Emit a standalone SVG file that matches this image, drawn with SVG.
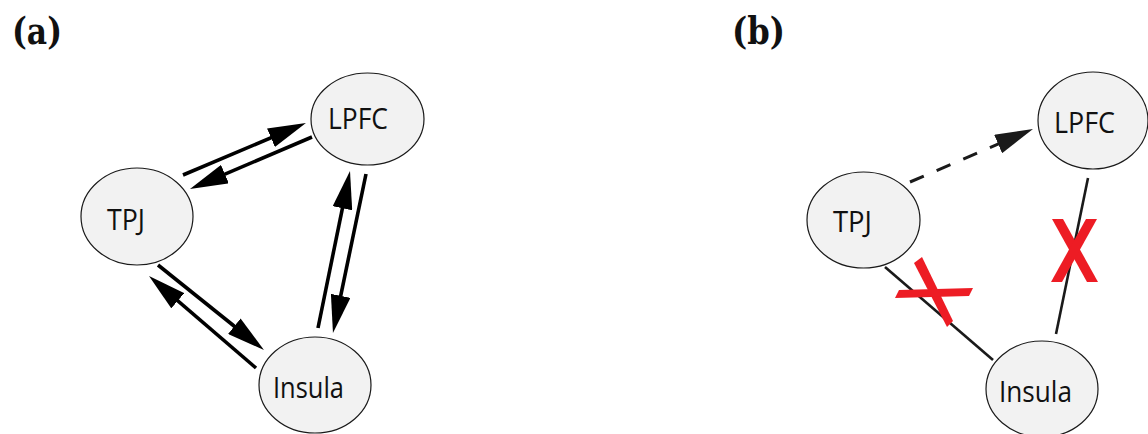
<svg xmlns="http://www.w3.org/2000/svg" width="1148" height="434" viewBox="0 0 1148 434">
<style>
.bg{fill:#ffffff}
.node ellipse{fill:#f2f2f2;stroke:#1a1a1a;stroke-width:1.2}
.node text{font-family:"Open Sans","Noto Sans",sans-serif;font-size:29px;fill:#111111}
.panel{font-family:"DejaVu Serif","Liberation Serif",serif;font-weight:bold;font-size:38px;fill:#111111}
.arr{stroke:#000000;stroke-width:3.6;fill:none;marker-end:url(#ah)}
.dash{stroke:#1a1a1a;stroke-width:3;fill:none;stroke-dasharray:15 14;marker-end:url(#ahd)}
.plain{stroke:#1a1a1a;stroke-width:2.6;fill:none}
.cross{fill:#ed1c24}
</style>
<defs>
<marker id="ah" markerUnits="userSpaceOnUse" viewBox="0 0 38 20" markerWidth="38" markerHeight="20" refX="26" refY="10" orient="auto">
<path d="M0,0 L38,10 L0,20 Z" fill="#000000"/>
</marker>
<marker id="ahd" markerUnits="userSpaceOnUse" viewBox="0 0 38 20" markerWidth="38" markerHeight="20" refX="26" refY="10" orient="auto">
<path d="M0,0 L38,10 L0,20 Z" fill="#1a1a1a"/>
</marker>
</defs>
<rect class="bg" x="0" y="0" width="1148" height="434"/>

<text class="panel" x="12" y="44" textLength="50" lengthAdjust="spacingAndGlyphs">(a)</text>
<text class="panel" x="732" y="44" textLength="53" lengthAdjust="spacingAndGlyphs">(b)</text>

<g id="a-LPFC" class="node">
<ellipse cx="367.5" cy="119" rx="56.5" ry="46"/>
<text x="328" y="129" textLength="60" lengthAdjust="spacingAndGlyphs">LPFC</text>
</g>
<g id="a-TPJ" class="node">
<ellipse cx="137" cy="216.5" rx="56" ry="48.5"/>
<text x="107" y="230" textLength="38" lengthAdjust="spacingAndGlyphs">TPJ</text>
</g>
<g id="a-Insula" class="node">
<ellipse cx="315" cy="385" rx="56" ry="48"/>
<text x="273" y="398" textLength="71" lengthAdjust="spacingAndGlyphs">Insula</text>
</g>

<g id="b-LPFC" class="node">
<ellipse cx="1093" cy="120.5" rx="55" ry="48.5"/>
<text x="1054" y="133" textLength="61" lengthAdjust="spacingAndGlyphs">LPFC</text>
</g>
<g id="b-TPJ" class="node">
<ellipse cx="863.5" cy="220" rx="56.5" ry="48"/>
<text x="833" y="232" textLength="39" lengthAdjust="spacingAndGlyphs">TPJ</text>
</g>
<g id="b-Insula" class="node">
<ellipse cx="1042" cy="389" rx="56" ry="48"/>
<text x="999" y="402" textLength="73" lengthAdjust="spacingAndGlyphs">Insula</text>
</g>

<g id="connectors">
<line class="arr" x1="183" y1="175" x2="294.9" y2="127.7"/>
<line class="arr" x1="312" y1="137" x2="201" y2="184.3"/>
<line class="arr" x1="318" y1="328" x2="347.6" y2="182.8"/>
<line class="arr" x1="366" y1="174" x2="335.4" y2="321.3"/>
<line class="arr" x1="158" y1="265" x2="254.6" y2="342.5"/>
<line class="arr" x1="256" y1="368" x2="158.1" y2="283.8"/>

<line class="dash" x1="910" y1="182" x2="1022" y2="133.75"/>
<line class="plain" x1="885" y1="267" x2="993" y2="360"/>
<line class="plain" x1="1088" y1="178" x2="1056" y2="334"/>
</g>

<g id="crosses">
<polygon class="cross" points="914,263 922,257 953,321 947,327"/>
<polygon class="cross" points="895,298 899,290 973,288 969,296"/>
<polygon class="cross" points="1052,219 1063,219 1098,282 1087,282"/>
<polygon class="cross" points="1086,219 1097,219 1062,282 1051,282"/>
</g>
</svg>
